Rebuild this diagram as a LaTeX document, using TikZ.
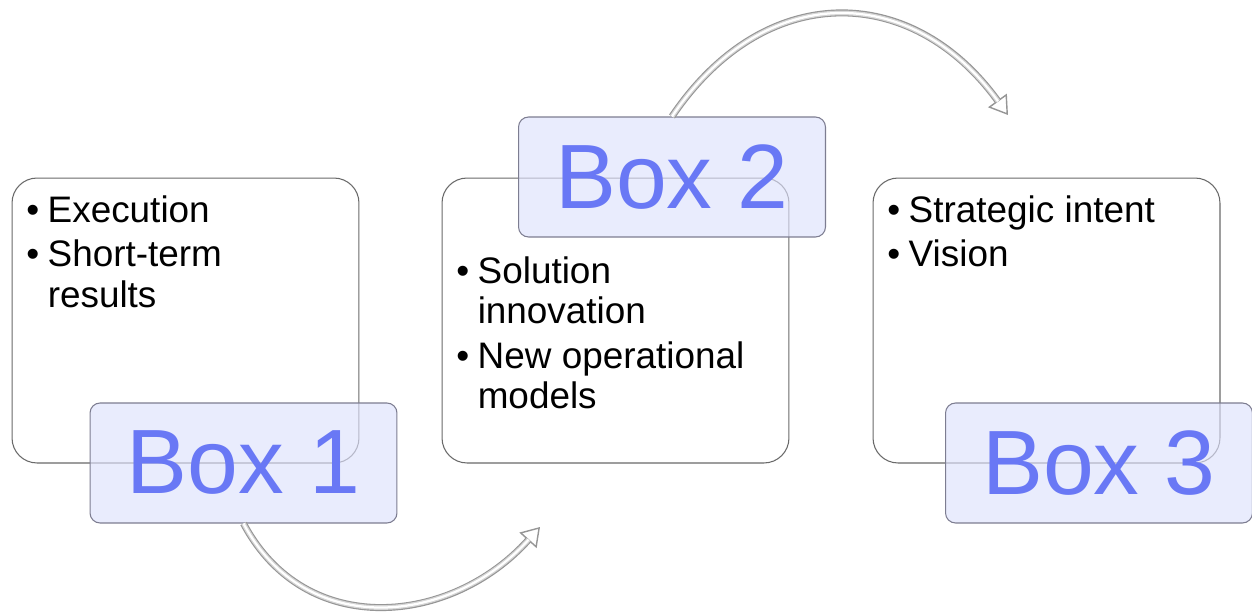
\documentclass[tikz,border=0pt]{standalone}
\usepackage{fontspec}
\setmainfont{Liberation Sans}
\usetikzlibrary{arrows.meta}

\definecolor{edgegray}{RGB}{105,105,105}
\definecolor{tagfill}{RGB}{222,226,252}
\definecolor{tagline}{RGB}{125,125,145}
\definecolor{tagtext}{RGB}{105,120,245}
\definecolor{flowgray}{RGB}{150,150,150}
\definecolor{flowmid}{RGB}{212,212,212}

\newcommand{\itm}{\makebox[0.58em][l]{\textbullet}}
\newcommand{\cont}{\hspace*{0.58em}}

\tikzset{
  panel/.style={draw=edgegray, line width=0.6pt, fill=white, rounded corners=0.5cm,
    minimum width=6.94cm, minimum height=5.7cm},
  tag/.style={draw=tagline, line width=0.6pt, fill=tagfill, fill opacity=0.65, text opacity=1,
    rounded corners=0.2cm, minimum width=6.14cm, minimum height=2.4cm, inner sep=0pt,
    text=tagtext, font=\fontsize{52}{60}\selectfont},
  points/.style={anchor=base west, inner sep=0pt,
    font=\fontsize{21}{23}\selectfont},
  flow/.style={draw=flowgray, line width=0.14cm,
    -{Triangle[length=0.36cm, width=0.46cm, fill=white, line width=0.8pt]}},
  flowbody/.style={draw=flowmid, line width=0.095cm, shorten >=0.34cm},
  flowcore/.style={draw=white, line width=0.045cm, shorten >=0.34cm},
}

\begin{document}
\begin{tikzpicture}[x=0.02cm, y=-0.02cm]

  \useasboundingbox[fill=white] (0,0) rectangle (1252,612);

  % the three panels
  \node[panel] (box1) at (185.5,320.5) {};
  \node[panel] (box2) at (615.5,320.5) {};
  \node[panel] (box3) at (1046.5,320.5) {};

  % bullet points, first baseline at the given y
  \node[points] (txt1) at (26,222) {\begin{tabular}[t]{@{}l@{}}
    \itm Execution\\[2.4pt] \itm Short-term\\ \cont results\end{tabular}};
  \node[points] (txt2) at (456,283) {\begin{tabular}[t]{@{}l@{}}
    \itm Solution\\ \cont innovation\\[2.4pt] \itm New operational\\ \cont models\end{tabular}};
  \node[points] (txt3) at (887,222) {\begin{tabular}[t]{@{}l@{}}
    \itm Strategic intent\\[2.4pt] \itm Vision\end{tabular}};

  % the labels on top
  \node[tag] (lab1) at (243.5,463) {Box 1};
  \node[tag] (lab2) at (672,177) {Box 2};
  \node[tag] (lab3) at (1099,463) {Box 3};

  % arrow ends
  \coordinate (end1) at (540,527);
  \coordinate (end2) at (1008,115);

  % hollow arrows, drawn in three layers
  \foreach \s in {flow, flowbody, flowcore} {
    \draw[\s] (lab1.south) to[out=-62, in=-132, looseness=1.14] (end1);
    \draw[\s] (lab2.north) to[out=56, in=126, looseness=1.25] (end2);
  }

\end{tikzpicture}
\end{document}
